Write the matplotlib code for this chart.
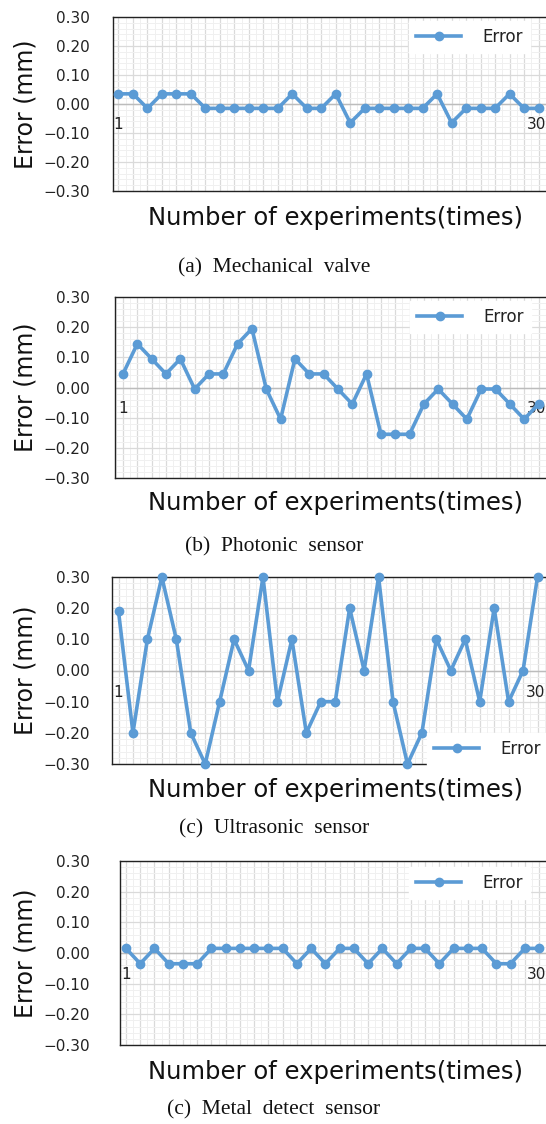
import matplotlib
matplotlib.use("Agg")
import matplotlib.pyplot as plt
from matplotlib.ticker import MultipleLocator

experiments = list(range(1, 31))

mechanical_valve = [0.035, 0.035, -0.015, 0.035, 0.035, 0.035, -0.015, -0.015, -0.015, -0.015,
                    -0.015, -0.015, 0.035, -0.015, -0.015, 0.035, -0.065, -0.015, -0.015, -0.015,
                    -0.015, -0.015, 0.035, -0.065, -0.015, -0.015, -0.015, 0.035, -0.015, -0.015]
photonic_sensor = [0.045, 0.145, 0.095, 0.045, 0.095, -0.005, 0.045, 0.045, 0.145, 0.195,
                   -0.005, -0.105, 0.095, 0.045, 0.045, -0.005, -0.055, 0.045, -0.155, -0.155,
                   -0.155, -0.055, -0.005, -0.055, -0.105, -0.005, -0.005, -0.055, -0.105, -0.055]
ultrasonic_sensor = [0.19, -0.20, 0.10, 0.30, 0.10, -0.20, -0.30, -0.10, 0.10, 0.00,
                     0.30, -0.10, 0.10, -0.20, -0.10, -0.10, 0.20, 0.00, 0.30, -0.10,
                     -0.30, -0.20, 0.10, 0.00, 0.10, -0.10, 0.20, -0.10, 0.00, 0.30]
metal_detect = [0.015, -0.035, 0.015, -0.035, -0.035, -0.035, 0.015, 0.015, 0.015, 0.015,
                0.015, 0.015, -0.035, 0.015, -0.035, 0.015, 0.015, -0.035, 0.015, -0.035,
                0.015, 0.015, -0.035, 0.015, 0.015, 0.015, -0.035, -0.035, 0.015, 0.015]

captions = ["(a)  Mechanical  valve", "(b)  Photonic  sensor",
            "(c)  Ultrasonic  sensor", "(c)  Metal  detect  sensor"]
yticks = [-0.30, -0.20, -0.10, 0.00, 0.10, 0.20, 0.30]

W, H = 546, 1124
BLUE = "#5b9bd5"
SANS = ["DejaVu Sans"]

fig = plt.figure(figsize=(W / 100, H / 100), dpi=100)

# pixel layout per panel: axes left/top/bottom, first/last point x, legend anchor, label rows
panels = [
    dict(data=mechanical_valve, left=113, top=17, bottom=191, x1=118.5, x30=538.5,
         leg=(401, 37), xl=218, cap=268),
    dict(data=photonic_sensor, left=115, top=297, bottom=478, x1=123, x30=538.5,
         leg=(402, 317), xl=503, cap=547),
    dict(data=ultrasonic_sensor, left=112, top=577, bottom=764, x1=118.5, x30=537.5,
         leg=(419, 749), xl=790, cap=829),
    dict(data=metal_detect, left=119.5, top=861, bottom=1045, x1=126, x30=539,
         leg=(401, 883), xl=1072, cap=1110),
]
RIGHT = 548

for i, p in enumerate(panels):
    ax = fig.add_axes([p["left"] / W, 1 - p["bottom"] / H,
                       (RIGHT - p["left"]) / W, (p["bottom"] - p["top"]) / H])
    sp = (p["x30"] - p["x1"]) / 29
    ax.set_xlim(1 - (p["x1"] - p["left"]) / sp, 30 + (RIGHT - p["x30"]) / sp)
    ax.set_ylim(-0.30, 0.30)

    ax.xaxis.set_major_locator(MultipleLocator(1))
    ax.xaxis.set_minor_locator(MultipleLocator(0.5))
    ax.yaxis.set_minor_locator(MultipleLocator(0.02))
    ax.grid(which="major", color="#dadada", linewidth=0.9)
    ax.grid(which="minor", color="#f0f0f0", linewidth=0.7)
    ax.set_axisbelow(True)
    ax.set_yticks(yticks)
    ax.set_yticklabels([f"{v:.2f}".replace("-", "\u2212") for v in yticks],
                       family=SANS, fontsize=11, color="#222222")
    ax.tick_params(axis="y", length=0, pad=(p["left"] - 90) / 1.389)
    ax.tick_params(axis="x", which="both", length=0, labelbottom=False)
    ax.tick_params(axis="y", which="minor", length=0)
    for s in ax.spines.values():
        s.set_color("#222222")
        s.set_linewidth(1.0)

    ax.axhline(0, color="#bcbcbc", linewidth=1.0, zorder=1)
    ax.text(1, -0.045, "1", ha="center", va="top", family=SANS, fontsize=11, color="#222222")
    ax.text(29.85, -0.045, "30", ha="center", va="top", family=SANS, fontsize=11, color="#222222")

    line, = ax.plot(experiments, p["data"], color=BLUE, linewidth=2.6, marker="o",
                    markersize=6, label="Error", zorder=3, clip_on=False)

    lx, ly = p["leg"]
    leg = fig.legend(handles=[line], loc="center left",
                     bbox_to_anchor=(lx / W, 1 - ly / H), frameon=True,
                     prop={"family": SANS, "size": 12}, handlelength=2.7,
                     handletextpad=1.3, borderpad=0.4, fancybox=False)
    leg.get_frame().set_facecolor("white")
    leg.get_frame().set_edgecolor("white")
    leg.get_frame().set_alpha(1)
    for t in leg.get_texts():
        t.set_color("#222222")

    fig.text(25 / W, 1 - (p["top"] + p["bottom"]) / 2 / H, "Error (mm)", rotation=90,
             ha="center", va="center", family=SANS, fontsize=17, color="#111111")
    fig.text(336 / W, 1 - p["xl"] / H, "Number of experiments(times)", ha="center",
             va="center", family=SANS, fontsize=17.5, color="#111111")
    fig.text(274 / W, 1 - p["cap"] / H, captions[i], ha="center", va="center",
             family="Liberation Serif", fontsize=15.5, color="#111111")

fig.savefig("out.png", dpi=100)
